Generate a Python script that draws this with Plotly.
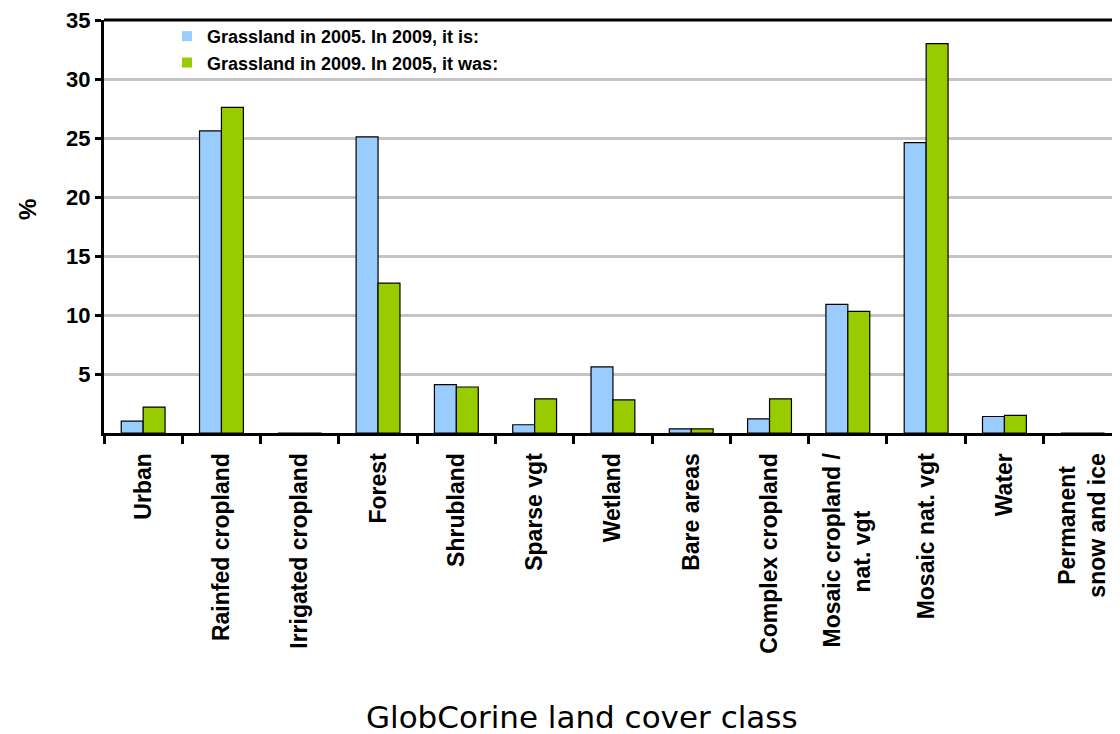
import plotly.graph_objects as go

NB = "\u00a0"
categories = ["Urban", "Rainfed cropland", "Irrigated cropland", "Forest", "Shrubland",
              "Sparse vgt", "Wetland", "Bare areas", "Complex cropland",
              "Mosaic cropland /<br>nat. vgt" + NB * 9, "Mosaic nat. vgt", "Water",
              "Permanent" + NB * 2 + "<br>snow and ice"]
series_2005_to_2009 = [1.0, 25.6, 0.0, 25.1, 4.1, 0.7, 5.6, 0.35, 1.2, 10.9, 24.6, 1.4, 0.0]
series_2009_from_2005 = [2.2, 27.6, 0.0, 12.7, 3.9, 2.9, 2.8, 0.35, 2.9, 10.3, 33.0, 1.5, 0.0]
name_a = "Grassland in 2005. In 2009, it is:"
name_b = "Grassland in 2009. In 2005, it was:"
color_a = "#99ccff"
color_b = "#99cc00"
y_ticks = [5, 10, 15, 20, 25, 30, 35]

fig = go.Figure()
fig.add_trace(go.Bar(x=categories, y=series_2005_to_2009, name=name_a, showlegend=False,
                     marker=dict(color=color_a, line=dict(color="black", width=1.2))))
fig.add_trace(go.Bar(x=categories, y=series_2009_from_2005, name=name_b, showlegend=False,
                     marker=dict(color=color_b, line=dict(color="black", width=1.2))))
# legend-only entries (plain squares, no outline)
for nm, col in [(name_a, color_a), (name_b, color_b)]:
    fig.add_trace(go.Scatter(x=[None], y=[None], mode="markers", name=nm,
                             marker=dict(symbol="square", size=10, color=col, line=dict(width=0))))

bold_font = "Liberation Sans, Arial, sans-serif"

# body has 8px default margin -> figure is 1112x726 so it fills the 1120x734 window
fig.update_layout(
    width=1112, height=726,
    margin=dict(l=96, r=0, t=12, b=301),
    paper_bgcolor="white", plot_bgcolor="white",
    barmode="group", bargap=0.44, bargroupgap=0,
    showlegend=True,
    legend=dict(x=0.062, y=1.005, xanchor="left", yanchor="top",
                font=dict(family=bold_font, size=18, color="black", weight="bold"),
                bgcolor="rgba(0,0,0,0)", itemwidth=30, tracegroupgap=0),
    xaxis=dict(range=[-0.5, 12.476], showline=True, linecolor="black", linewidth=3,
               ticks="outside", tickson="boundaries", ticklen=8, tickwidth=3, tickcolor="black",
               tickangle=-90, tickfont=dict(family=bold_font, size=23, color="black", weight="bold"),
               ticklabelstandoff=8, showgrid=False, mirror=False, ticklabeloverflow="allow"),
    yaxis=dict(range=[0, 35], showline=True, linecolor="black", linewidth=3,
               tickvals=y_ticks, ticks="outside", ticklen=6, tickwidth=3, tickcolor="black",
               tickfont=dict(family=bold_font, size=22, color="black", weight="bold"),
               ticklabeloverflow="allow",
               showgrid=True, gridcolor="#c4c4c4", gridwidth=2.5, zeroline=False),
    annotations=[
        dict(text="%", x=(27 - 104) / 1016, y=(433 - 210) / 413, xref="paper", yref="paper",
             showarrow=False, textangle=-90, xanchor="center", yanchor="middle",
             font=dict(family=bold_font, size=24, color="black", weight="bold")),
        dict(text="GlobCorine land cover class", x=(582 - 104) / 1016, y=(433 - 717) / 413,
             xref="paper", yref="paper", showarrow=False, xanchor="center", yanchor="middle",
             font=dict(family="DejaVu Sans, Verdana, sans-serif", size=31, color="black")),
    ],
    shapes=[dict(type="line", xref="paper", yref="paper", x0=0, x1=1, y0=1, y1=1,
                 line=dict(color="black", width=3), layer="above")],
)

fig.write_html("out.html")
